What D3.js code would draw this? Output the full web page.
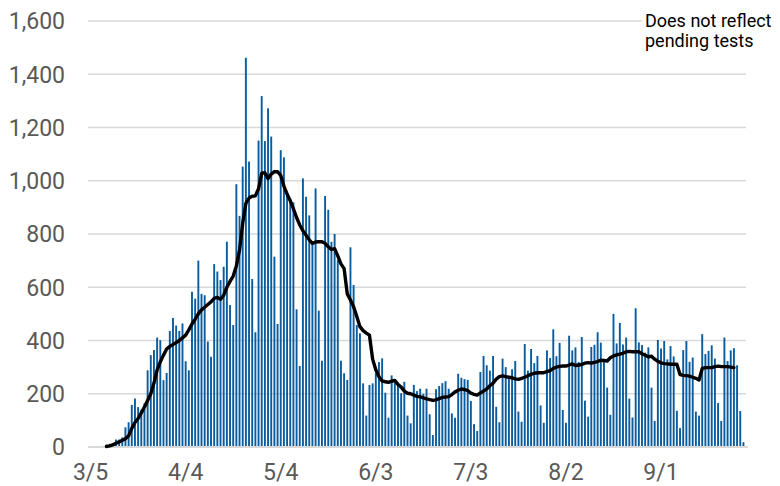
<!DOCTYPE html>
<html>
<head>
<meta charset="utf-8">
<script src="https://cdn.jsdelivr.net/npm/d3@7"></script>
<style>
  body { margin: 0; background: #fff; }
  text { font-family: Roboto, "Noto Sans", sans-serif; }
</style>
</head>
<body>
<script>
var width = 780;
var height = 486;

// daily new cases, 3/5 .. 9/27
var cases = [
  0, 0, 0, 2, 4, 9, 12, 15, 28, 28,
  36, 74, 93, 158, 182, 150, 140, 164, 288, 345,
  364, 411, 401, 251, 278, 436, 485, 456, 436, 464,
  322, 288, 583, 557, 700, 575, 570, 396, 339, 687,
  659, 627, 677, 771, 533, 458, 987, 868, 1053, 1462,
  1072, 631, 431, 1151, 1318, 1149, 1272, 1166, 715, 462,
  1115, 1088, 960, 934, 919, 517, 304, 1009, 940, 870,
  765, 971, 512, 324, 943, 891, 771, 800, 702, 324,
  277, 252, 750, 608, 458, 427, 239, 118, 233, 239,
  277, 319, 333, 204, 110, 269, 254, 236, 202, 245,
  118, 89, 233, 210, 219, 200, 219, 123, 45, 217,
  229, 240, 247, 219, 126, 110, 275, 260, 255, 252,
  173, 86, 60, 282, 342, 307, 287, 342, 151, 93,
  332, 300, 264, 292, 323, 133, 95, 387, 287, 368,
  315, 342, 156, 91, 363, 334, 442, 341, 391, 139,
  91, 418, 363, 374, 319, 413, 174, 114, 376, 384,
  431, 392, 321, 223, 121, 500, 389, 466, 385, 411,
  182, 111, 521, 393, 383, 354, 374, 223, 98, 402,
  370, 398, 329, 379, 340, 136, 71, 364, 398, 320,
  336, 133, 118, 424, 349, 361, 382, 332, 165, 98,
  411, 323, 363, 371, 307, 135, 18
];

// 7-day average as drawn (null where no line)
var average = [
  null, null, null, null, null, 2, 4, 8, 14, 19,
  25, 31, 42, 70, 92, 107, 128, 150, 175, 200,
  240, 290, 320, 345, 368, 378, 385, 392, 400, 410,
  420, 440, 462, 480, 500, 515, 525, 535, 545, 558,
  562, 555, 570, 600, 622, 642, 680, 740, 840, 915,
  935, 942, 943, 970, 1028, 1030, 1008, 1025, 1034, 1034,
  1020, 980, 950, 925, 895, 862, 834, 812, 795, 778,
  765, 770, 771, 771, 765, 752, 742, 745, 718, 688,
  670, 575, 552, 527, 490, 452, 437, 428, 420, 330,
  290, 264, 248, 245, 243, 247, 250, 235, 225, 210,
  202, 200, 195, 190, 188, 185, 181, 178, 175, 177,
  182, 186, 188, 189, 197, 207, 213, 218, 216, 212,
  202, 198, 195, 203, 210, 218, 230, 240, 255, 264,
  267, 264, 262, 260, 256, 254, 258, 262, 268, 273,
  277, 279, 279, 279, 283, 287, 295, 300, 303, 304,
  304, 308, 312, 306, 308, 310, 315, 317, 315, 318,
  321, 326, 325, 323, 335, 342, 346, 349, 352, 358,
  359, 358, 358, 358, 350, 345, 339, 341, 330, 322,
  316, 313, 312, 311, 311, 311, 272, 269, 268, 266,
  262, 258, 252, 295, 298, 298, 298, 302, 304, 302,
  302, 302, 300, 298, null, null, null
];

var yTicks = [0, 200, 400, 600, 800, 1000, 1200, 1400, 1600];
var xTickLabels = ["3/5", "4/4", "5/4", "6/3", "7/3", "8/2", "9/1"];
var note = ["Does not reflect", "pending tests"];

var fmt = d3.timeFormat("%-m/%-d");
var days = d3.timeDay.range(new Date(2020, 2, 5), new Date(2020, 2, 5 + cases.length)).map(fmt);

var svg = d3.select("body").append("svg").attr("width", width).attr("height", height);

var x = d3.scaleBand().domain(days).range([89, 745]).paddingInner(0.4).paddingOuter(0.2);
var y = d3.scaleLinear().domain([0, 1600]).range([447, 21]);

// gridlines
svg.append("g")
    .selectAll("line")
    .data(yTicks.slice(1))
    .enter().append("line")
    .attr("x1", 88)
    .attr("x2", 746)
    .attr("y1", function (d) { return y(d); })
    .attr("y2", function (d) { return y(d); })
    .attr("stroke", "#d9d9d9")
    .attr("stroke-width", 1.6);

// y labels
svg.append("g")
    .selectAll("text")
    .data(yTicks)
    .enter().append("text")
    .attr("x", 65)
    .attr("y", function (d) { return y(d); })
    .attr("dy", "0.36em")
    .attr("text-anchor", "end")
    .attr("font-size", "23px")
    .attr("fill", "#595959")
    .text(function (d) { return d3.format(",")(d); });

// bars
svg.append("g")
    .selectAll("rect")
    .data(cases)
    .enter().append("rect")
    .attr("x", function (d, i) { return x(days[i]); })
    .attr("width", x.bandwidth())
    .attr("y", function (d) { return y(d); })
    .attr("height", function (d) { return y(0) - y(d); })
    .attr("fill", "#0a5c9e");

// baseline
svg.append("line")
    .attr("x1", 88)
    .attr("x2", 748)
    .attr("y1", y(0))
    .attr("y2", y(0))
    .attr("stroke", "#d9d9d9")
    .attr("stroke-width", 2.2);

// average line
var line = d3.line()
    .defined(function (d) { return d !== null; })
    .x(function (d, i) { return x(days[i]) + x.bandwidth() / 2; })
    .y(function (d) { return y(d); });

svg.append("path")
    .datum(average)
    .attr("d", line)
    .attr("fill", "none")
    .attr("stroke", "#000")
    .attr("stroke-width", 3.4)
    .attr("stroke-linejoin", "round")
    .attr("stroke-linecap", "round");

// x labels
svg.append("g")
    .selectAll("text")
    .data(xTickLabels)
    .enter().append("text")
    .attr("x", function (d) { return x(d) + x.bandwidth() / 2; })
    .attr("y", 480)
    .attr("text-anchor", "middle")
    .attr("font-size", "23px")
    .attr("fill", "#595959")
    .text(function (d) { return d; });

// note
svg.append("rect")
    .attr("x", 642)
    .attr("y", 4)
    .attr("width", 138)
    .attr("height", 50)
    .attr("fill", "#fff");

svg.append("g")
    .selectAll("text")
    .data(note)
    .enter().append("text")
    .attr("x", 645)
    .attr("y", function (d, i) { return 26.5 + i * 20; })
    .attr("font-size", "18px")
    .attr("fill", "#000")
    .text(function (d) { return d; });
</script>
</body>
</html>
